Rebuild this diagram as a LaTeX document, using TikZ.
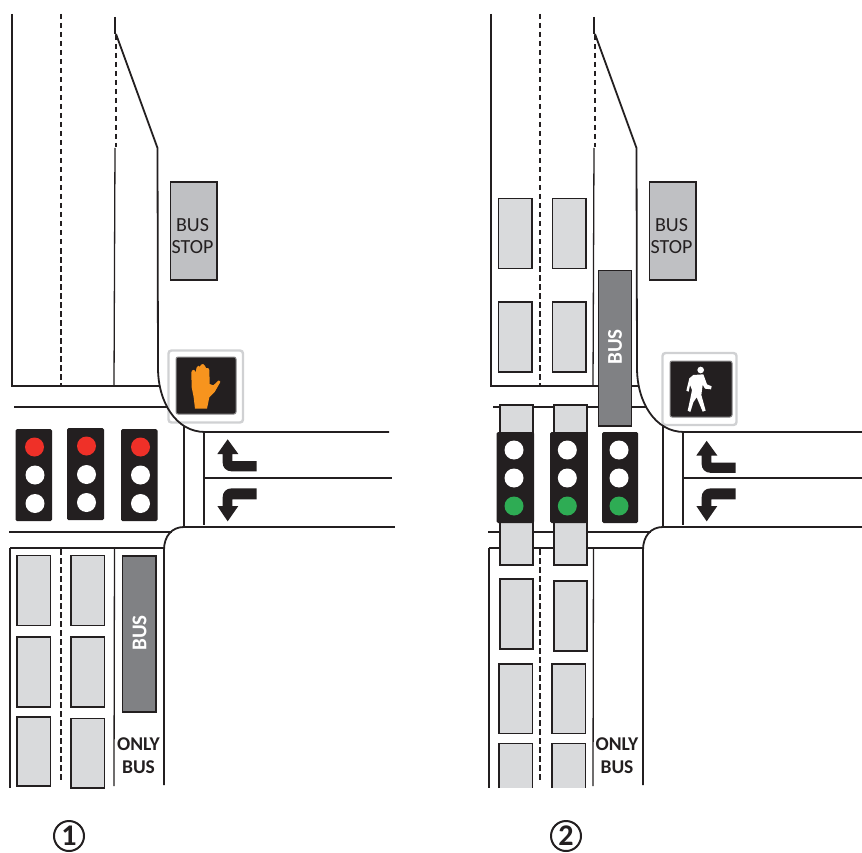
\documentclass[tikz,border=0pt]{standalone}
\usepackage{fontspec}
\setmainfont{Carlito}
\definecolor{ink}{HTML}{231F20}
\definecolor{carfill}{HTML}{D9DADC}
\definecolor{busfill}{HTML}{808184}
\definecolor{stopfill}{HTML}{BFC0C3}
\definecolor{redlamp}{HTML}{EF3028}
\definecolor{greenlamp}{HTML}{2EAC54}
\definecolor{handfill}{HTML}{F7941E}
\definecolor{signedge}{HTML}{D0D1D3}
\tikzset{
  road/.style={draw=ink,line width=1.8pt},
  thinroad/.style={draw=ink,line width=1.3pt},
  lanedash/.style={draw=ink,line width=1.3pt,dash pattern=on 5.5pt off 3.5pt},
  car/.style={draw=ink,fill=carfill,line width=1.8pt},
  busbody/.style={draw=ink,fill=busfill,line width=1.8pt},
  stopbox/.style={draw=ink,fill=stopfill,line width=1.8pt},
  signal/.style={fill=ink,rounded corners=1.5pt},
  lamp/.style={circle,minimum size=19pt,inner sep=0pt},
  buslabel/.style={text=white,font=\bfseries\fontsize{21}{21}\selectfont,rotate=90,inner sep=0pt},
  stoplabel/.style={text=ink,font=\fontsize{20}{22.5}\selectfont,align=center,inner sep=0pt},
  onlylabel/.style={text=ink,font=\bfseries\fontsize{19.5}{23}\selectfont,align=center,inner sep=0pt},
  numlabel/.style={circle,draw=ink,line width=2pt,minimum size=30pt,inner sep=0pt,text=ink,font=\bfseries\fontsize{30}{30}\selectfont},
  signouter/.style={fill=white,draw=signedge,line width=2.4pt,rounded corners=3pt},
  signinner/.style={fill=ink,draw=signedge!60!ink,line width=1pt,rounded corners=2pt},
}
\newcommand{\roadbase}[1]{%
  \begin{scope}[shift={(#1,0)}]
    \draw[road] (12,14) -- (12,386) -- (160,386);
    \draw[lanedash] (61,14) -- (61,386);
    \draw[road,line width=2.2pt] (115,17) -- (115,34);
    \draw[lanedash] (116,35) -- (116,147);
    \draw[thinroad] (115,148) -- (114,386);
    \draw[road] (116,34) -- (157.5,148) -- (158,368)
      .. controls (158,402) and (176,432) .. (205,432) -- (389,432);
    \draw[road] (14,407) -- (167,407);
    \draw[road] (9,532) -- (172,532);
    \draw[road] (184,426) -- (184,527) -- (395,527);
    \draw[road] (204,432) -- (204,525);
    \draw[road] (204,478) -- (392,478);
    \draw[road] (184,527) .. controls (172,527) and (164,536) .. (164,550) -- (164,785);
    \draw[road] (10,548) -- (164,548);
    \draw[thinroad] (10,548) -- (10,788);
    \draw[lanedash] (61,549) -- (61,780);
    \draw[thinroad] (114.5,548) -- (114,786);
  \end{scope}}
\newcommand{\arrowpair}[3]{%
  \begin{scope}[shift={(#1,#2)},xscale=1/3,yscale=1/3]
    \fill[ink] (683,178) -- (715,222) -- (697,222) -- (697,243) -- (770,243) -- (770,274) -- (695,274)
      .. controls (678,274) and (668,262) .. (668,248) -- (668,222) -- (652,222) -- cycle;
  \end{scope}
  \begin{scope}[shift={(#1,#3)},xscale=1/3,yscale=1/3]
    \fill[ink] (683,424) -- (715,378) -- (697,378) -- (697,358) -- (770,358) -- (770,325) -- (695,325)
      .. controls (678,325) and (668,337) .. (668,352) -- (668,378) -- (652,378) -- cycle;
  \end{scope}}
\begin{document}
\begin{tikzpicture}[x=1pt,y=-1pt]
\useasboundingbox (0,0) rectangle (862,853);
\fill[white] (0,0) rectangle (862,853);

%%%% panel 1
% walk signal: hand
\draw[signouter] (168.5,350.5) rectangle (243,422.5);
\draw[signinner] (176,357) rectangle (236,414);
\begin{scope}[shift={(150,340)},xscale=1/3,yscale=1/3]
  \fill[handfill] (135,206) -- (131,172) -- (125,142) -- (124,98) .. controls (125,88) and (134,86) .. (137,97)
   -- (140,82) .. controls (142,76) and (148,76) .. (150,80) -- (153,74) .. controls (156,70) and (163,71) .. (165,78)
   -- (168,84) .. controls (172,82) and (178,84) .. (178,90) -- (179,132) -- (190,136) -- (205,122)
   .. controls (210,120) and (213,124) .. (210,128) -- (194,156) -- (178,172) -- (171,206) -- cycle;
\end{scope}
\roadbase{0}
\arrowpair{0}{380}{380}
\draw[stopbox] (170.5,182) rectangle (217,280);
\node[stoplabel] (stopa) at (192.5,236) {BUS\\STOP};
% signals
\fill[signal] (15.5,429) rectangle (52,521);
\fill[signal] (67,428) rectangle (104,520);
\fill[signal] (121,429) rectangle (157.5,521);
\node[lamp,fill=redlamp] (a1r) at (34.5,447) {};
\node[lamp,fill=white] (a1w) at (35,475) {};
\node[lamp,fill=white] (a1g) at (35,503.5) {};
\node[lamp,fill=redlamp] (a2r) at (86.5,446) {};
\node[lamp,fill=white] (a2w) at (86.5,474.5) {};
\node[lamp,fill=white] (a2g) at (86.5,502.5) {};
\node[lamp,fill=redlamp] (a3r) at (140.5,447) {};
\node[lamp,fill=white] (a3w) at (140.5,475) {};
\node[lamp,fill=white] (a3g) at (140.5,503.5) {};
% cars
\foreach \xa in {17,71}{
  \draw[car] (\xa,555.5) rectangle (\xa+33.5,625.5);
  \draw[car] (\xa,637) rectangle (\xa+33.5,707);
}
\draw[car] (17,717) rectangle (50.5,786);
\draw[car] (71,718.5) rectangle (104.5,788);
\draw[busbody] (122.5,556) rectangle (156,712);
\node[buslabel] (busa) at (139.5,633) {BUS};
\node[onlylabel] (onlya) at (138.5,756) {ONLY\\BUS};
\node[numlabel] (numa) at (69,836) {1};

%%%% panel 2
% walk signal: walker
\draw[signouter] (662.5,353) rectangle (736.5,425);
\draw[signinner] (670,361) rectangle (732,417);
\begin{scope}[shift={(640,340)},xscale=1/3,yscale=1/3]
  \fill[white] (182,90) circle (10);
  \fill[white] (160,105) -- (190,103) -- (201,133) -- (215,139) -- (213,148) -- (195,146) -- (188,134)
    -- (184,165) -- (197,212) -- (188,215) -- (170,172) -- (160,187) -- (151,216) -- (143,212) -- (150,180)
    -- (156,150) -- (150,135) -- (146,155) -- (139,152) -- (148,115) -- cycle;
\end{scope}
\roadbase{479}
\arrowpair{479}{381.5}{380}
\draw[stopbox] (649.5,182) rectangle (696,280);
\node[stoplabel] (stopb) at (671.5,236) {BUS\\STOP};
% cars
\draw[car] (500,405) rectangle (533,565);
\draw[car] (554,405) rectangle (587,565);
\draw[car] (500,579) rectangle (533,649);
\draw[car] (554,581) rectangle (587,651);
\draw[car] (499,664) rectangle (532.5,733.5);
\draw[car] (552,664) rectangle (585.5,733.5);
\fill[carfill] (499,743.5) rectangle (532.5,788);
\fill[carfill] (552,743.5) rectangle (585.5,788);
\draw[car,fill=none] (499,788) -- (499,743.5) -- (532.5,743.5) -- (532.5,788);
\draw[car,fill=none] (552,788) -- (552,743.5) -- (585.5,743.5) -- (585.5,788);
\draw[car] (498.5,198.5) rectangle (532,268.5);
\draw[car] (552.5,198.5) rectangle (586,268.5);
\draw[car] (498.5,302) rectangle (532,372);
\draw[car] (552.5,302) rectangle (586,372);
\draw[busbody] (598.5,270.5) rectangle (631.5,426);
\node[buslabel] (busb) at (615,347) {BUS};
% signals
\fill[signal] (496.7,432) rectangle (534,523);
\fill[signal] (550,432) rectangle (587,523);
\fill[signal] (602,432) rectangle (638,523);
\node[lamp,fill=white] (b1r) at (514,450) {};
\node[lamp,fill=white] (b1w) at (514,478) {};
\node[lamp,fill=greenlamp] (b1g) at (514,506) {};
\node[lamp,fill=white] (b2r) at (567.3,450) {};
\node[lamp,fill=white] (b2w) at (567.3,478) {};
\node[lamp,fill=greenlamp] (b2g) at (567.3,506) {};
\node[lamp,fill=white] (b3r) at (619,450) {};
\node[lamp,fill=white] (b3w) at (619,478) {};
\node[lamp,fill=greenlamp] (b3g) at (619,506) {};
\node[onlylabel] (onlyb) at (617,756) {ONLY\\BUS};
\node[numlabel] (numb) at (566,836) {2};
\end{tikzpicture}
\end{document}
